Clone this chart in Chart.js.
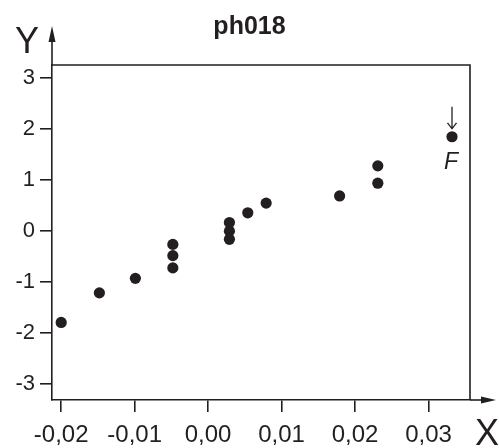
<!DOCTYPE html>
<html>
<head>
<meta charset="utf-8">
<script src="https://cdn.jsdelivr.net/npm/chart.js@4/dist/chart.umd.min.js"></script>
<style>
  html, body { margin: 0; padding: 0; background: #fff; }
  #wrap { width: 499px; height: 448px; }
</style>
</head>
<body>
<div id="wrap"><canvas id="c" width="499" height="448"></canvas></div>
<script>
// ---- data ----
const titleText = "ph018";
const xValues = [-0.020, -0.0148, -0.0099, -0.0048, -0.0048, -0.0048, 0.0029, 0.0029, 0.0029, 0.0054, 0.0079, 0.0179, 0.0231, 0.0231];
const yValues = [-1.80, -1.22, -0.935, -0.27, -0.49, -0.73, 0.16, -0.01, -0.17, 0.35, 0.54, 0.68, 1.27, 0.93];
const outlierX = [0.0332];
const outlierY = [1.84];
const outlierLabel = "F";
const xTickValues = [-0.02, -0.01, 0.00, 0.01, 0.02, 0.03];
const xTickLabels = ["-0,02", "-0,01", "0,00", "0,01", "0,02", "0,03"];
const yTickValues = [-3, -2, -1, 0, 1, 2, 3];
const yTickLabels = ["-3", "-2", "-1", "0", "1", "2", "3"];
const xAxisTitle = "X";
const yAxisTitle = "Y";

const FONT = "'Liberation Sans', Arial, Helvetica, sans-serif";
const INK = "#231f20";

const mainPts = xValues.map((x, i) => ({ x: x, y: yValues[i] }));
const outPts = outlierX.map((x, i) => ({ x: x, y: outlierY[i] }));

const decor = {
  id: 'decor',
  afterDraw(chart) {
    const ctx = chart.ctx;
    const a = chart.chartArea;
    ctx.save();
    ctx.strokeStyle = INK;
    ctx.fillStyle = INK;
    ctx.lineWidth = 1.6;
    // frame top & right
    ctx.beginPath();
    ctx.moveTo(a.left, a.top);
    ctx.lineTo(a.right, a.top);
    ctx.lineTo(a.right, a.bottom);
    ctx.stroke();
    // y axis arrow
    ctx.beginPath();
    ctx.moveTo(a.left, a.top);
    ctx.lineTo(a.left, 38);
    ctx.stroke();
    ctx.beginPath();
    ctx.moveTo(a.left, 26);
    ctx.lineTo(a.left - 3.5, 42);
    ctx.lineTo(a.left + 3.5, 42);
    ctx.closePath();
    ctx.fill();
    // x axis arrow
    ctx.beginPath();
    ctx.moveTo(a.right, a.bottom);
    ctx.lineTo(484, a.bottom);
    ctx.stroke();
    ctx.beginPath();
    ctx.moveTo(496, a.bottom);
    ctx.lineTo(481, a.bottom - 3.5);
    ctx.lineTo(481, a.bottom + 3.5);
    ctx.closePath();
    ctx.fill();
    // axis titles
    ctx.font = "36px " + FONT;
    ctx.textAlign = "center";
    ctx.textBaseline = "alphabetic";
    ctx.fillText(yAxisTitle, 27, 53);
    ctx.fillText(xAxisTitle, 487, 445);
    // outlier annotation
    const xs = chart.scales.x, ys = chart.scales.y;
    outPts.forEach(p => {
      const px = xs.getPixelForValue(p.x);
      const py = ys.getPixelForValue(p.y);
      ctx.lineWidth = 1.3;
      ctx.beginPath();
      ctx.moveTo(px, py - 30);
      ctx.lineTo(px, py - 8);
      ctx.moveTo(px - 4.5, py - 14);
      ctx.lineTo(px, py - 8);
      ctx.lineTo(px + 4.5, py - 14);
      ctx.stroke();
      ctx.font = "italic 23px " + FONT;
      ctx.textAlign = "center";
      ctx.textBaseline = "alphabetic";
      ctx.fillText(outlierLabel, px - 1, py + 32);
    });
    ctx.restore();
  }
};

new Chart(document.getElementById('c'), {
  type: 'scatter',
  data: {
    datasets: [
      { data: mainPts, backgroundColor: INK, borderColor: INK, pointRadius: 5.6, pointHoverRadius: 5.6, borderWidth: 0 },
      { data: outPts, backgroundColor: INK, borderColor: INK, pointRadius: 5.6, pointHoverRadius: 5.6, borderWidth: 0 }
    ]
  },
  options: {
    responsive: false,
    animation: false,
    events: [],
    layout: { padding: { left: 0, right: 0, top: 0, bottom: 0 } },
    plugins: {
      legend: { display: false },
      tooltip: { enabled: false },
      title: {
        display: true,
        text: titleText,
        color: INK,
        font: { family: FONT, size: 25, weight: 'bold', lineHeight: 1.2 },
        padding: { top: 12, bottom: 23 }
      }
    },
    scales: {
      x: {
        type: 'linear',
        min: -0.02125,
        max: 0.03565,
        afterBuildTicks(s) { s.ticks = xTickValues.map(v => ({ value: v })); },
        afterFit(s) { s.height = 48; s.paddingRight = 29; },
        grid: { display: true, drawOnChartArea: false, drawTicks: true, tickLength: 12, color: INK, lineWidth: 1.6 },
        border: { display: true, color: INK, width: 1.6 },
        ticks: {
          color: INK,
          padding: 9,
          maxRotation: 0,
          autoSkip: false,
          font: { family: FONT, size: 24 },
          callback(v) { const i = xTickValues.findIndex(t => Math.abs(t - v) < 1e-9); return i >= 0 ? xTickLabels[i] : ''; }
        }
      },
      y: {
        type: 'linear',
        min: -3.32,
        max: 3.247,
        afterBuildTicks(s) { s.ticks = yTickValues.map(v => ({ value: v })); },
        afterFit(s) { s.width = 52; },
        grid: { display: true, drawOnChartArea: false, drawTicks: true, tickLength: 12, color: INK, lineWidth: 1.6 },
        border: { display: true, color: INK, width: 1.6 },
        ticks: {
          color: INK,
          padding: 5,
          autoSkip: false,
          font: { family: FONT, size: 22 },
          callback(v) { const i = yTickValues.findIndex(t => Math.abs(t - v) < 1e-9); return i >= 0 ? yTickLabels[i] : ''; }
        }
      }
    }
  },
  plugins: [decor]
});
</script>
</body>
</html>
